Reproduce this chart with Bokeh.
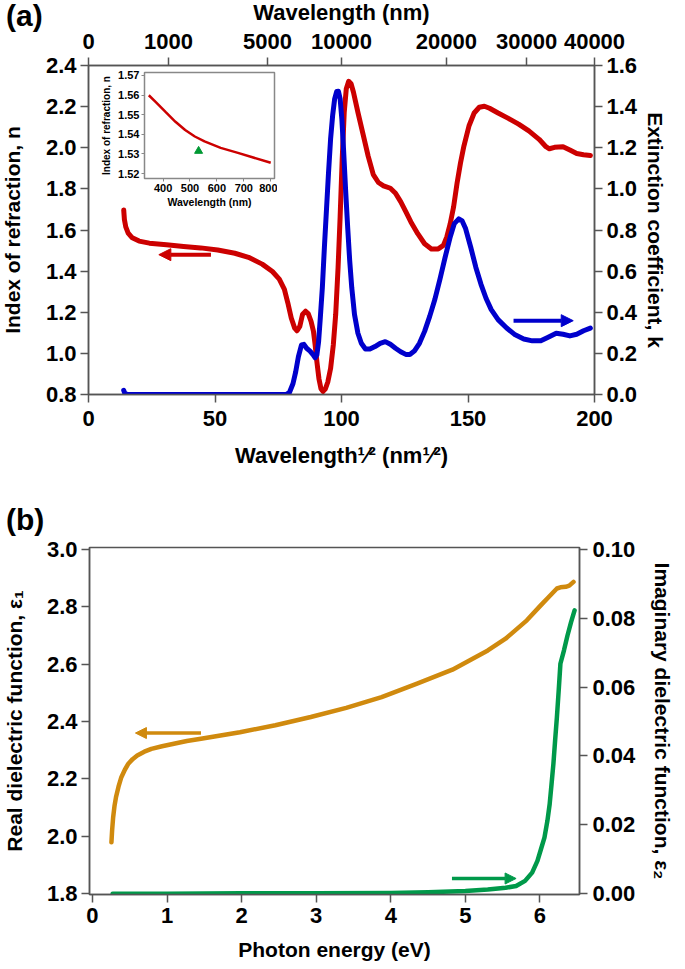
import math
from bokeh.plotting import figure
from bokeh.models import Range1d, LinearAxis, FixedTicker, Arrow, NormalHead, Div
from bokeh.layouts import column
from bokeh.embed import file_html
from bokeh.resources import INLINE

# ---------------- data: panel (a) ----------------
n_sqrt_wl = [13.92, 14.19, 14.73, 15.68, 17.30, 20.0, 24.05, 30.81, 37.57, 44.32, 51.08, 57.84,
             63.24, 68.65, 72.70, 75.41, 77.43, 78.78, 80.14, 81.49, 82.43, 83.51, 84.59, 85.81,
             86.89, 87.97, 88.92, 89.59, 90.27, 91.08, 91.89, 92.70, 93.65, 94.59, 95.68, 96.76,
             97.70, 98.65, 99.46, 100.27, 101.08, 101.89, 102.84, 103.78, 104.73, 106.49, 108.51,
             110.54, 112.57, 114.59, 116.62, 119.32, 121.35, 123.38, 125.41, 127.43, 130.14,
             132.84, 135.54, 138.24, 140.27, 141.62, 142.97, 144.32, 145.68, 147.03, 148.38,
             150.41, 152.43, 154.46, 156.49, 158.51, 161.89, 165.95, 170.0, 174.05, 178.11,
             180.81, 182.16, 184.19, 187.57, 190.27, 192.97, 195.68, 198.38]
n_values = [1.697, 1.651, 1.615, 1.585, 1.562, 1.546, 1.536, 1.528, 1.520, 1.513, 1.503, 1.487,
            1.467, 1.434, 1.398, 1.361, 1.311, 1.246, 1.172, 1.123, 1.110, 1.131, 1.189, 1.205,
            1.192, 1.156, 1.107, 1.041, 0.959, 0.877, 0.828, 0.815, 0.828, 0.861, 0.926, 1.041,
            1.189, 1.418, 1.664, 1.943, 2.172, 2.287, 2.323, 2.311, 2.270, 2.172, 2.066,
            1.959, 1.869, 1.831, 1.815, 1.803, 1.779, 1.738, 1.689, 1.639, 1.582,
            1.533, 1.508, 1.508, 1.525, 1.566, 1.631, 1.713, 1.828, 1.926, 2.008,
            2.107, 2.169, 2.197, 2.202, 2.192, 2.169, 2.143, 2.115, 2.082, 2.041,
            2.005, 1.995, 2.002, 2.005, 1.989, 1.972, 1.966, 1.962]

k_sqrt_wl = [13.92, 14.32, 15.27, 37.57, 78.11, 79.46, 80.81, 81.89, 82.97, 84.19, 85.14, 86.22,
             87.57, 88.65, 89.59, 90.27, 90.95, 91.62, 92.43, 93.24, 94.05, 94.86, 95.68, 96.49,
             97.30, 98.11, 98.78, 99.46, 100.14, 100.81, 101.62, 102.43, 103.24, 104.05, 105.14,
             106.49, 107.84, 109.46, 111.22, 113.24, 115.27, 117.30, 119.32, 121.35, 123.38,
             125.41, 127.03, 128.78, 130.81, 132.84, 134.86, 136.89, 138.92, 140.95, 142.97,
             144.59, 146.35, 147.70, 149.05, 151.08, 153.11, 155.14, 157.16, 159.19, 161.89,
             165.27, 168.65, 172.03, 175.41, 178.78, 181.49, 184.86, 187.57, 190.27, 192.97,
             195.68, 198.38]
k_values = [0.020, 0.007, 0.0, 0.0, 0.0, 0.011, 0.052, 0.110, 0.184, 0.241, 0.244, 0.225,
            0.211, 0.195, 0.179, 0.192, 0.257, 0.372, 0.520, 0.716, 0.897, 1.077, 1.241, 1.356,
            1.438, 1.474, 1.475, 1.438, 1.339, 1.192, 0.995, 0.815, 0.651, 0.520, 0.389,
            0.298, 0.249, 0.221, 0.221, 0.233, 0.249, 0.257, 0.244, 0.225, 0.208,
            0.195, 0.195, 0.211, 0.249, 0.307, 0.380, 0.462, 0.561, 0.667, 0.766,
            0.831, 0.854, 0.844, 0.807, 0.716, 0.618, 0.536, 0.467, 0.413, 0.364,
            0.323, 0.290, 0.270, 0.261, 0.261, 0.277, 0.298, 0.293, 0.285, 0.293,
            0.310, 0.323]

sqrt_ticks = [0, 50, 100, 150, 200]
n_ticks = [0.8, 1.0, 1.2, 1.4, 1.6, 1.8, 2.0, 2.2, 2.4]
n_tick_labels = ["0.8", "1.0", "1.2", "1.4", "1.6", "1.8", "2.0", "2.2", "2.4"]
k_ticks = [0.0, 0.2, 0.4, 0.6, 0.8, 1.0, 1.2, 1.4, 1.6]
k_tick_labels = ["0.0", "0.2", "0.4", "0.6", "0.8", "1.0", "1.2", "1.4", "1.6"]
top_wavelengths = [0, 1000, 5000, 10000, 20000, 30000, 40000]

n_arrow_x = [48.4, 27.8]
n_arrow_y = 1.48
k_arrow_x = [168.0, 191.6]
k_arrow_y = 0.359

# inset
inset_wl = [347, 374, 410, 446, 482, 518, 554, 614, 675, 735, 800]
inset_n = [1.5599, 1.5563, 1.5513, 1.5464, 1.5422, 1.5389, 1.5364, 1.5331, 1.5307, 1.5282, 1.5255]
inset_point_wl = [532]
inset_point_n = [1.5315]
inset_x_ticks = [400, 500, 600, 700, 800]
inset_y_ticks = [1.52, 1.53, 1.54, 1.55, 1.56, 1.57]
inset_y_labels = ["1.52", "1.53", "1.54", "1.55", "1.56", "1.57"]

# ---------------- data: panel (b) ----------------
e1_energy = [0.254, 0.263, 0.277, 0.296, 0.315, 0.349, 0.387, 0.434, 0.481, 0.538, 0.60, 0.695,
             0.79, 0.933, 1.075, 1.265, 1.455, 1.977, 2.452, 2.927, 3.402, 3.877, 4.352, 4.826,
             5.301, 5.539, 5.824, 6.013, 6.108, 6.227, 6.274, 6.346, 6.393, 6.45]
eps1 = [1.979, 2.020, 2.066, 2.107, 2.136, 2.173, 2.206, 2.232, 2.253, 2.269, 2.282, 2.295,
        2.305, 2.314, 2.322, 2.332, 2.340, 2.363, 2.387, 2.416, 2.448, 2.485, 2.532, 2.581,
        2.648, 2.689, 2.753, 2.806, 2.832, 2.864, 2.868, 2.870, 2.874, 2.887]
e2_energy = [0.27, 1.0, 2.0, 3.0, 4.0, 4.5, 5.0, 5.3, 5.539, 5.68, 5.80, 5.895, 5.966, 6.013,
             6.06, 6.10, 6.13, 6.155, 6.18, 6.203, 6.227, 6.251, 6.274, 6.322, 6.369, 6.417, 6.464]
eps2 = [0.0, 0.0, 0.0001, 0.0001, 0.0002, 0.0004, 0.0008, 0.0012, 0.0017, 0.0022, 0.0037,
        0.0061, 0.0095, 0.0129, 0.0163, 0.0212, 0.026, 0.0318, 0.0377, 0.0445, 0.0513, 0.0590,
        0.0668, 0.0707, 0.0750, 0.0789, 0.0823]
energy_ticks = [0, 1, 2, 3, 4, 5, 6]
eps1_ticks = [1.8, 2.0, 2.2, 2.4, 2.6, 2.8, 3.0]
eps1_labels = ["1.8", "2.0", "2.2", "2.4", "2.6", "2.8", "3.0"]
eps2_ticks = [0.0, 0.02, 0.04, 0.06, 0.08, 0.10]
eps2_labels = ["0.00", "0.02", "0.04", "0.06", "0.08", "0.10"]
e1_arrow_x = [1.455, 0.576]
e1_arrow_y = 2.36
e2_arrow_x = [4.82, 5.68]
e2_arrow_y = 0.0044

# ---------------- styling ----------------
FONT = "Liberation Sans"
AX = "#555555"
RED = "#CC0000"
BLUE = "#0000CC"
ORANGE = "#D08A0E"
GREEN = "#00994A"


def style_axis(ax, size="22px", label_size="21px", tick_out=8, lw=1.5):
    ax.axis_line_color = AX
    ax.axis_line_width = lw
    ax.major_tick_line_color = AX
    ax.major_tick_line_width = lw
    ax.major_tick_out = tick_out
    ax.major_tick_in = 0
    ax.minor_tick_line_color = None
    ax.major_label_text_font = FONT
    ax.major_label_text_font_style = "bold"
    ax.major_label_text_font_size = size
    ax.major_label_text_color = "black"
    ax.axis_label_text_font = FONT
    ax.axis_label_text_font_style = "bold"
    ax.axis_label_text_font_size = label_size
    ax.axis_label_text_color = "black"


def base_fig(**kw):
    p = figure(output_backend="svg", toolbar_location=None, **kw)
    p.xgrid.visible = False
    p.ygrid.visible = False
    p.outline_line_color = AX
    p.outline_line_width = 1.5
    p.background_fill_color = "white"
    p.frame_align = False
    return p


# ---------------- panel (a) ----------------
pa = base_fig(width=685, height=482, x_range=Range1d(0, 200), y_range=Range1d(0.8, 2.4),
              min_border_left=94, min_border_right=81, min_border_top=69, min_border_bottom=84,
              margin=(-4, 0, 0, -6))
pa.extra_y_ranges = {"k": Range1d(0, 1.6)}
pa.extra_x_ranges = {"top": Range1d(0, 200)}

xa = pa.xaxis[0]
xa.ticker = FixedTicker(ticks=sqrt_ticks)
xa.axis_label = "Wavelength\u00b9\u2044\u00b2 (nm\u00b9\u2044\u00b2)"
style_axis(xa, label_size="22px")
xa.major_label_standoff = 8
xa.axis_label_standoff = 14

ya = pa.yaxis[0]
ya.ticker = FixedTicker(ticks=n_ticks)
ya.major_label_overrides = {t: l for t, l in zip(n_ticks, n_tick_labels)}
ya.axis_label = "Index of refraction, n"
style_axis(ya)
ya.major_label_standoff = 4
ya.axis_label_standoff = 19

top_ax = LinearAxis(x_range_name="top", axis_label="Wavelength (nm)")
top_pos = [math.sqrt(w) for w in top_wavelengths]
top_ax.ticker = FixedTicker(ticks=top_pos)
top_ax.major_label_overrides = {p: str(w) for p, w in zip(top_pos, top_wavelengths)}
style_axis(top_ax, label_size="22px")
top_ax.major_label_standoff = 9
top_ax.axis_label_standoff = 6
pa.add_layout(top_ax, "above")

k_ax = LinearAxis(y_range_name="k", axis_label="Extinction coefficient, k")
k_ax.ticker = FixedTicker(ticks=k_ticks)
k_ax.major_label_overrides = {t: l for t, l in zip(k_ticks, k_tick_labels)}
style_axis(k_ax)
k_ax.major_label_standoff = 4
k_ax.axis_label_standoff = 4
pa.add_layout(k_ax, "right")

pa.line(n_sqrt_wl, n_values, line_color=RED, line_width=5, line_join="round", line_cap="round")
pa.line(k_sqrt_wl, k_values, line_color=BLUE, line_width=5, line_join="round", line_cap="round",
        y_range_name="k")

pa.add_layout(Arrow(end=NormalHead(size=12, fill_color=RED, line_color=RED),
                    x_start=n_arrow_x[0], y_start=n_arrow_y, x_end=n_arrow_x[1], y_end=n_arrow_y,
                    line_color=RED, line_width=4))
pa.add_layout(Arrow(end=NormalHead(size=12, fill_color=BLUE, line_color=BLUE),
                    x_start=k_arrow_x[0], y_start=k_arrow_y, x_end=k_arrow_x[1], y_end=k_arrow_y,
                    line_color=BLUE, line_width=4, y_range_name="k"))

# ---------------- inset ----------------
pi = figure(output_backend="svg", toolbar_location=None, width=179, height=141,
            x_range=Range1d(331, 814), y_range=Range1d(1.5175, 1.5715),
            min_border_left=42, min_border_right=3, min_border_top=3, min_border_bottom=32,
            styles={"position": "absolute", "left": "98px", "top": "69px"})
pi.frame_align = False
pi.xgrid.visible = False
pi.ygrid.visible = False
pi.outline_line_color = "#888888"
pi.outline_line_width = 1.5
pi.background_fill_color = "white"
pi.border_fill_color = None
ix = pi.xaxis[0]
ix.ticker = FixedTicker(ticks=inset_x_ticks)
ix.axis_label = "Wavelength (nm)"
style_axis(ix, size="11px", label_size="10.5px", tick_out=3, lw=1)
ix.axis_line_color = "#888888"
ix.major_tick_line_color = "#888888"
ix.major_label_standoff = 2
ix.axis_label_standoff = 1
iy = pi.yaxis[0]
iy.ticker = FixedTicker(ticks=inset_y_ticks)
iy.major_label_overrides = {t: l for t, l in zip(inset_y_ticks, inset_y_labels)}
iy.axis_label = "Index of refraction, n"
style_axis(iy, size="11px", label_size="10px", tick_out=3, lw=1)
iy.axis_line_color = "#888888"
iy.major_tick_line_color = "#888888"
iy.major_label_standoff = 2
iy.axis_label_standoff = 3
pi.line(inset_wl, inset_n, line_color=RED, line_width=2.5)
pi.scatter(inset_point_wl, inset_point_n, marker="triangle", size=8, fill_color="#009933",
           line_color="#009933")

# ---------------- panel (b) ----------------
pb = base_fig(width=685, height=484, x_range=Range1d(-0.04, 6.53), y_range=Range1d(1.797, 3.007),
              min_border_left=93, min_border_right=98, min_border_top=65, min_border_bottom=72,
              margin=(4, 0, 0, -4))
pb.extra_y_ranges = {"e2": Range1d((1.797 - 1.8) / 12, (3.007 - 1.8) / 12)}

xb = pb.xaxis[0]
xb.ticker = FixedTicker(ticks=energy_ticks)
xb.axis_label = "Photon energy (eV)"
style_axis(xb)
xb.major_label_standoff = 5
xb.axis_label_standoff = 12

yb = pb.yaxis[0]
yb.ticker = FixedTicker(ticks=eps1_ticks)
yb.major_label_overrides = {t: l for t, l in zip(eps1_ticks, eps1_labels)}
yb.axis_label = "Real dielectric function, \u03b5\u2081"
style_axis(yb)
yb.major_label_standoff = 4
yb.axis_label_standoff = 18

e2_ax = LinearAxis(y_range_name="e2", axis_label="Imaginary dielectric function, \u03b5\u2082")
e2_ax.ticker = FixedTicker(ticks=eps2_ticks)
e2_ax.major_label_overrides = {t: l for t, l in zip(eps2_ticks, eps2_labels)}
style_axis(e2_ax)
e2_ax.major_label_standoff = 5
e2_ax.axis_label_standoff = 13
pb.add_layout(e2_ax, "right")

pb.line(e1_energy, eps1, line_color=ORANGE, line_width=4.5, line_join="round", line_cap="round")
pb.line(e2_energy, eps2, line_color=GREEN, line_width=4.5, line_join="round", line_cap="round",
        y_range_name="e2")

pb.add_layout(Arrow(end=NormalHead(size=11, fill_color=ORANGE, line_color=ORANGE),
                    x_start=e1_arrow_x[0], y_start=e1_arrow_y, x_end=e1_arrow_x[1], y_end=e1_arrow_y,
                    line_color=ORANGE, line_width=3.5))
pb.add_layout(Arrow(end=NormalHead(size=11, fill_color=GREEN, line_color=GREEN),
                    x_start=e2_arrow_x[0], y_start=e2_arrow_y, x_end=e2_arrow_x[1], y_end=e2_arrow_y,
                    line_color=GREEN, line_width=3.5, y_range_name="e2"))

label_style = "font-family: 'Liberation Sans'; font-weight: bold; font-size: 30px; line-height: 34px;"
lab_a = Div(text=f'<span style="{label_style}">(a)</span>', width=50, height=36,
            styles={"position": "absolute", "left": "1px", "top": "-6px"})
lab_b = Div(text=f'<span style="{label_style}">(b)</span>', width=50, height=36,
            styles={"position": "absolute", "left": "1px", "top": "498px"})

layout = column(pa, pb, pi, lab_a, lab_b, spacing=0)
open("out.html", "w").write(file_html(layout, INLINE))
